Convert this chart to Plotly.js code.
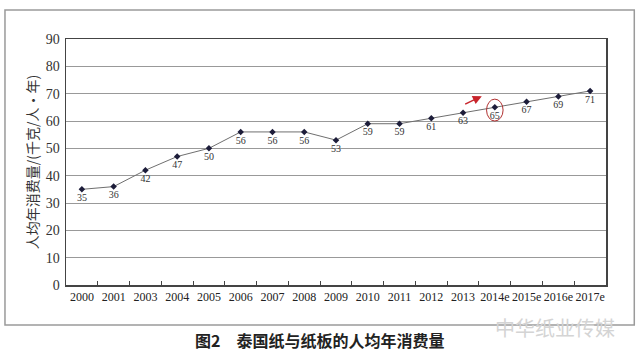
<!DOCTYPE html>
<html>
<head>
<meta charset="utf-8">
<script src="https://cdn.plot.ly/plotly-3.0.1.min.js"></script>
<style>html,body{margin:0;padding:0;background:#fff;}#chart{width:640px;height:356px;}</style>
</head>
<body>
<div id="chart"></div>
<script>
const years = ["2000","2001","2003","2004","2005","2006","2007","2008","2009","2010","2011","2012","2013","2014e","2015e","2016e","2017e"];
const consumption = [35,36,42,47,50,56,56,56,53,59,59,61,63,65,67,69,71];
const yTicks = [0,10,20,30,40,50,60,70,80,90];
const chartTitle = "图2\u3000泰国纸与纸板的人均年消费量";
const yTitle = "人均年消费量/(千克/人·年)";
const watermark = "中华纸业传媒";
const highlightYear = "2014e";

const serif = "Liberation Serif, DejaVu Serif, serif";
const cjk = "Noto Sans CJK SC, sans-serif";
const hi = years.indexOf(highlightYear);

const trace = {
  x: years,
  y: consumption,
  type: "scatter",
  mode: "lines+markers+text",
  line: {color: "#6f6f6f", width: 1},
  marker: {symbol: "diamond", size: 5, color: "#1d1d3a"},
  text: consumption.map(String),
  textposition: "bottom center",
  textfont: {family: serif, size: 10, color: "#333"},
  cliponaxis: false,
  hoverinfo: "skip"
};

const layout = {
  width: 640, height: 356,
  margin: {l: 66, r: 34, t: 39, b: 71},
  paper_bgcolor: "#fff", plot_bgcolor: "#fff",
  showlegend: false,
  xaxis: {
    type: "category",
    categoryorder: "array", categoryarray: years,
    range: [-0.5, years.length - 0.5],
    showgrid: false, zeroline: false,
    showline: true, linecolor: "#444", linewidth: 1.5, mirror: true,
    ticks: "inside", tickson: "boundaries", ticklen: 4, tickcolor: "#444", tickwidth: 1,
    tickangle: 0,
    tickfont: {family: serif, size: 12, color: "#222"},
    fixedrange: true
  },
  yaxis: {
    range: [0, 90],
    tickvals: yTicks,
    ticktext: yTicks.map(String),
    showgrid: true, gridcolor: "#999", gridwidth: 1,
    zeroline: false,
    showline: true, linecolor: "#444", linewidth: 1.5, mirror: true,
    ticks: "", ticklabelstandoff: 2,
    tickfont: {family: serif, size: 14, color: "#333"},
    title: {text: yTitle, font: {family: cjk, size: 14, color: "#333"}, standoff: 4},
    fixedrange: true
  },
  shapes: [
    {type: "rect", xref: "paper", yref: "paper", x0: -0.113, x1: 1.0524, y0: -0.1626, y1: 1.118,
     line: {color: "#9a9a9a", width: 1.5}, fillcolor: "rgba(0,0,0,0)", layer: "below"},
    {type: "circle", xref: "x", yref: "y", x0: hi - 0.26, x1: hi + 0.26, y0: 60, y1: 68,
     line: {color: "#b03030", width: 1}}
  ],
  annotations: [
    {xref: "paper", yref: "paper", x: 0.47, y: -0.225, xanchor: "center", yanchor: "middle",
     text: "<b>" + chartTitle + "</b>", showarrow: false,
     font: {family: cjk, size: 16, color: "#222"}},
    {xref: "paper", yref: "paper", x: 1.02, y: -0.172, xanchor: "right", yanchor: "middle",
     text: watermark, showarrow: false,
     font: {family: cjk, size: 20, color: "#d4d4d4"}},
    {xref: "x", yref: "y", x: hi - 0.41, y: 69.1, ax: hi - 0.98, ay: 65.9, axref: "x", ayref: "y",
     text: "", showarrow: true, arrowhead: 2, arrowsize: 1.2, arrowwidth: 1.5, arrowcolor: "#c8242b"}
  ]
};

Plotly.newPlot("chart", [trace], layout, {displayModeBar: false, staticPlot: true});
</script>
</body>
</html>
